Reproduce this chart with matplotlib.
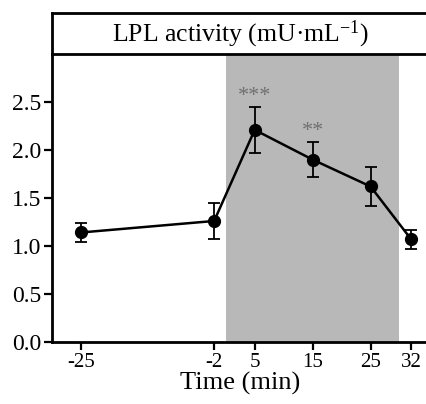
import numpy as np
import matplotlib.pyplot as plt

plt.rcParams["font.family"] = ["Liberation Serif", "DejaVu Serif"]

# Data
time_min = [-25, -2, 5, 15, 25, 32]
lpl_activity = [1.14, 1.26, 2.21, 1.90, 1.62, 1.07]
lpl_err = [0.10, 0.19, 0.24, 0.18, 0.20, 0.10]
stars = ["", "", "***", "**", "", ""]
shade_start, shade_end = 0, 30

fig = plt.figure(figsize=(4.26, 4.04), dpi=100)
ax = fig.add_axes([0.1221, 0.154, 0.8836, 0.712])

# gray shaded period
ax.axvspan(shade_start, shade_end, color="#b8b8b8", lw=0, zorder=0)

ax.errorbar(time_min, lpl_activity, yerr=lpl_err, color="black", lw=1.8,
            marker="o", markersize=8.5, capsize=4, elinewidth=1.3, capthick=1.3)

for t, v, e, s in zip(time_min, lpl_activity, lpl_err, stars):
    if s:
        ax.text(t, v + e + 0.01, s, ha="center", va="bottom", color="#707070",
                fontsize=16)

ax.set_xlim(-30, 35)
ax.set_ylim(0, 3)
ax.set_xticks(time_min)
ax.set_yticks([0.0, 0.5, 1.0, 1.5, 2.0, 2.5])
ax.set_yticklabels(["0.0", "0.5", "1.0", "1.5", "2.0", "2.5"], fontsize=17)
ax.set_xticklabels([str(t) for t in time_min], fontsize=15)
ax.tick_params(axis="both", width=1.6, length=6, pad=2)
ax.set_xlabel("Time (min)", fontsize=19, labelpad=0)

for side in ["top", "right"]:
    ax.spines[side].set_visible(False)
for side in ["left", "bottom"]:
    ax.spines[side].set_linewidth(2)

# header box with the title
hx = fig.add_axes([0.1221, 0.866, 0.8836, 0.102])
hx.set_xticks([])
hx.set_yticks([])
hx.spines["right"].set_visible(False)
for side in ["left", "top", "bottom"]:
    hx.spines[side].set_linewidth(2)
hx.text(0.5, 0.48, r"LPL activity (mU·mL$\mathregular{^{-1}}$)", ha="center",
        va="center", fontsize=18.5, transform=hx.transAxes)

fig.savefig("out.png", dpi=100)
